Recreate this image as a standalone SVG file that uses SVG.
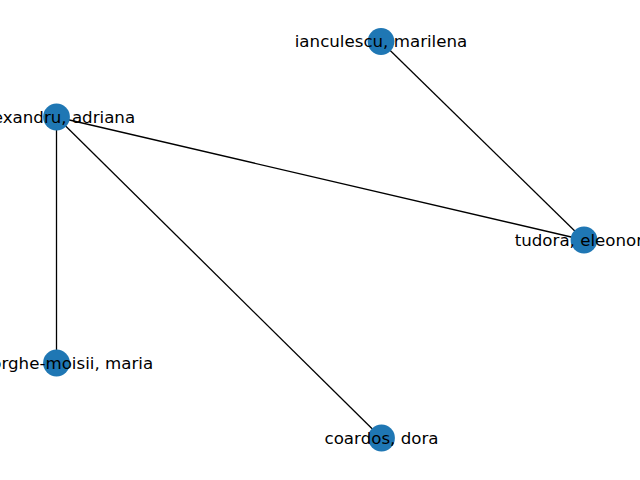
<svg xmlns="http://www.w3.org/2000/svg" width="640" height="480" viewBox="0 0 640 480">
<style>
.edge{stroke:#000;stroke-width:1.3;fill:none}
.node{fill:#1f77b4}
.lbl{font-family:"DejaVu Sans",sans-serif;font-size:16.67px;fill:#000;text-anchor:middle;dominant-baseline:central}
</style>
<rect width="640" height="480" fill="#fff"/>
<g id="edges">
<line class="edge" x1="56.5" y1="117" x2="584" y2="240"/>
<line class="edge" x1="56.5" y1="117" x2="56.5" y2="363"/>
<line class="edge" x1="56.5" y1="117" x2="381.5" y2="438"/>
<line class="edge" x1="381" y1="41.5" x2="584" y2="240"/>
</g>
<g id="node-alexandru">
<circle class="node" cx="56.5" cy="117" r="13.4"/>
<text class="lbl" x="56.5" y="117">alexandru, adriana</text>
</g>
<g id="node-ianculescu">
<circle class="node" cx="381" cy="41.5" r="13.4"/>
<text class="lbl" x="381" y="41.5">ianculescu, marilena</text>
</g>
<g id="node-tudora">
<circle class="node" cx="584" cy="240" r="13.4"/>
<text class="lbl" x="584" y="240">tudora, eleonora</text>
</g>
<g id="node-gheorghe">
<circle class="node" cx="56.5" cy="363" r="13.4"/>
<text class="lbl" x="56.5" y="363">gheorghe-moisii, maria</text>
</g>
<g id="node-coardos">
<circle class="node" cx="381.5" cy="438" r="13.4"/>
<text class="lbl" x="381.5" y="438">coardos, dora</text>
</g>
</svg>
